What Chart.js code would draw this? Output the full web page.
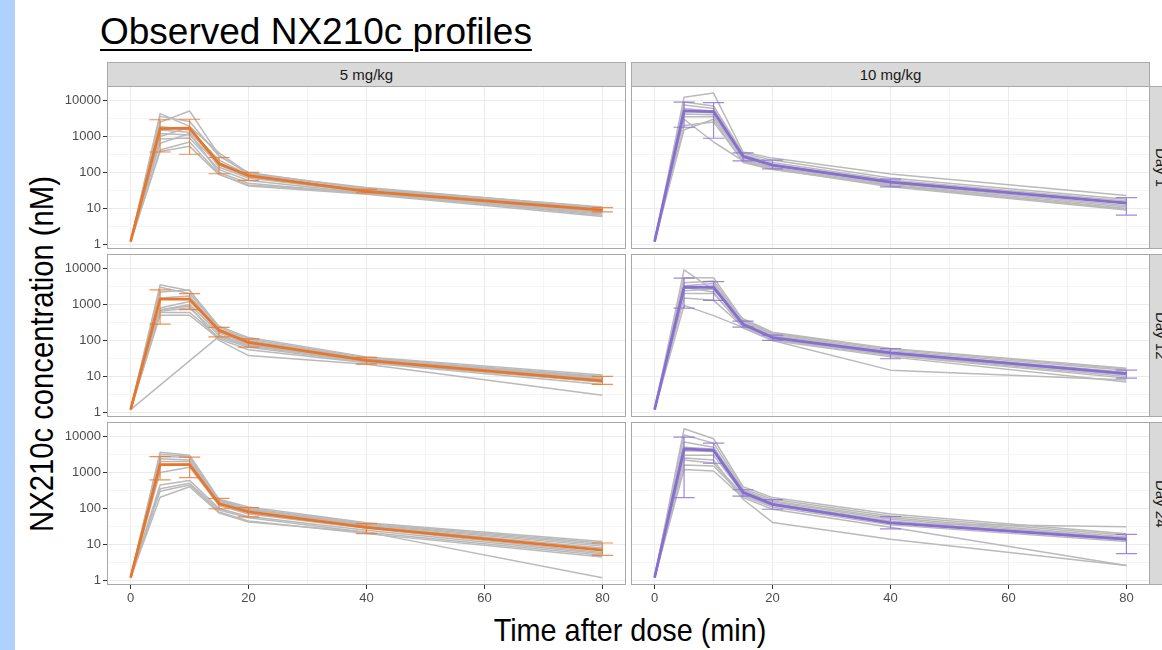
<!DOCTYPE html>
<html>
<head>
<meta charset="utf-8">
<title>Observed NX210c profiles</title>
<script src="https://cdn.jsdelivr.net/npm/chart.js@4.4.1/dist/chart.umd.min.js"></script>
<style>
  html, body { margin: 0; padding: 0; }
  body {
    width: 1162px; height: 650px; overflow: hidden; position: relative;
    background: #fff; font-family: 'Liberation Sans', Arial, sans-serif;
  }
  .side { position: absolute; left: 0; top: 0; width: 15px; height: 650px; background: #aed2fb; }
  .title {
    position: absolute; left: 100px; top: 11px; font-size: 37px; line-height: 42px;
    color: #000; text-decoration: underline; text-decoration-thickness: 2px;
    text-underline-offset: 5px; white-space: nowrap;
  }
  .strip {
    position: absolute; background: #d9d9d9; border: 1px solid #a9a9a9; box-sizing: border-box;
    color: #1a1a1a; font-size: 15px; display: flex; align-items: center; justify-content: center;
    white-space: nowrap;
  }
  .vstrip { writing-mode: vertical-rl; }
  canvas { position: absolute; }
  .ytitle {
    position: absolute; left: -209px; top: 334px; width: 500px; height: 40px; line-height: 40px;
    text-align: center; font-size: 34px; color: #000; transform: rotate(-90deg) scaleX(0.86);
    white-space: nowrap;
  }
  .xtitle {
    position: absolute; left: 380px; top: 612px; width: 500px; line-height: 36px;
    text-align: center; font-size: 32px; color: #000; transform: scaleX(0.9); white-space: nowrap;
  }
</style>
</head>
<body>
<div class="side"></div>
<div class="title">Observed NX210c profiles</div>
<div class="ytitle">NX210c concentration (nM)</div>
<div class="xtitle">Time after dose (min)</div>

<script>
// sampling times (min) and axis ticks
const times = [0, 5, 10, 15, 20, 40, 80];
const xTicks = [0, 20, 40, 60, 80];
const xMinor = [10, 30, 50, 70];
const yTicks = [1, 10, 100, 1000, 10000];
const yMinor = [3.162, 31.62, 316.2, 3162];
const doses = ['5 mg/kg', '10 mg/kg'];
const days = ['Day 1', 'Day 12', 'Day 24'];

// 5 mg/kg - mean and error bar limits
const mean5Day1 = [1.2, 1650, 1700, 175, 82, 30, 9];
const up5Day1 = [null, 2900, 3000, 260, 100, 34, 10.5];
const lo5Day1 = [null, 370, 320, 92, 60, 27, 8];
const mean5Day12 = [1.2, 1400, 1400, 190, 88, 28, 7.5];
const up5Day12 = [null, 2550, 2000, 230, 110, 34, 10];
const lo5Day12 = [null, 285, 720, 125, 65, 22, 6];
const mean5Day24 = [1.2, 1650, 1650, 135, 80, 30, 7];
const up5Day24 = [null, 2750, 2650, 190, 105, 38, 11];
const lo5Day24 = [null, 620, 720, 98, 58, 20, 5];

// 10 mg/kg - mean and error bar limits
const mean10Day1 = [1.2, 5100, 4900, 280, 160, 54, 14];
const up10Day1 = [null, 8900, 8700, 350, 220, 65, 20];
const lo10Day1 = [null, 1800, 890, 210, 125, 40, 6.5];
const mean10Day12 = [1.2, 3000, 3000, 280, 120, 45, 12];
const up10Day12 = [null, 5400, 4300, 345, 140, 59, 15];
const lo10Day12 = [null, 790, 1300, 235, 100, 31, 9];
const mean10Day24 = [1.2, 4500, 4100, 280, 130, 40, 14];
const up10Day24 = [null, 9500, 6500, 330, 175, 59, 19];
const lo10Day24 = [null, 200, 1800, 220, 95, 27, 5.6];

// individual profiles (grey lines)
const subj5Day1 = [
  [1.2, 4300, 1900, 350, 95, 36, 11],
  [1.2, 3600, 2600, 280, 100, 34, 10],
  [1.2, 2500, 5100, 300, 90, 38, 10.5],
  [1.2, 1900, 1500, 220, 85, 32, 9.5],
  [1.2, 1500, 1300, 190, 80, 30, 9],
  [1.2, 1200, 1100, 160, 75, 29, 8.5],
  [1.2, 1000, 1800, 140, 70, 28, 8],
  [1.2, 850, 900, 120, 60, 27, 7.5],
  [1.2, 650, 1200, 100, 50, 26, 7],
  [1.2, 420, 700, 90, 42, 25, 6],
  [1.2, 380, 530, 87, 45, 27, 6.5]
];
const subj5Day12 = [
  [1.2, 3500, 2400, 250, 120, 35, 11],
  [1.2, 3000, 2000, 230, 110, 33, 10],
  [1.2, 2200, 2500, 210, 100, 31, 9.5],
  [1.2, 1500, 1700, 200, 95, 30, 9],
  [1.2, 800, 1200, 180, 90, 29, 8.5],
  [1.2, 700, 1000, 160, 80, 28, 8],
  [1.2, 650, 800, 140, 75, 27, 7.5],
  [1.2, 600, 600, 120, 65, 25, 7],
  [1.2, 500, 500, 110, 55, 24, 6],
  [1.2, 700, 900, 100, 38, 22, 3],
  [1.2, null, null, 130, 70, 26, 7]
];
const subj5Day24 = [
  [1.2, 3650, 3000, 180, 110, 40, 12],
  [1.2, 3200, 2800, 170, 100, 38, 11],
  [1.2, 2800, 2600, 160, 95, 36, 10],
  [1.2, 2400, 2200, 150, 90, 34, 9],
  [1.2, 2000, 2000, 140, 85, 32, 8],
  [1.2, 1600, 1700, 130, 80, 30, 7],
  [1.2, 1000, 1400, 120, 70, 28, 6],
  [1.2, 450, 600, 100, 60, 25, 5.5],
  [1.2, 350, 500, 90, 55, 22, 5],
  [1.2, 300, 450, 80, 45, 20, 4.5],
  [1.2, 205, 400, 75, 42, 22, 1.2]
];
const subj10Day1 = [
  [1.2, 12300, 16000, 370, 250, 90, 23],
  [1.2, 9000, 7000, 340, 220, 70, 18],
  [1.2, 7500, 6000, 310, 190, 62, 16],
  [1.2, 6000, 5000, 290, 170, 58, 15],
  [1.2, 5000, 4500, 270, 160, 55, 14],
  [1.2, 4200, 4000, 250, 150, 50, 12],
  [1.2, 3500, 3500, 230, 140, 46, 11],
  [1.2, 3000, 700, 210, 130, 42, 10],
  [1.2, 2000, 2500, 200, 125, 40, 9],
  [1.2, 1540, 3000, 190, 120, 44, 9.5]
];
const subj10Day12 = [
  [1.2, 9100, 2500, 400, 170, 60, 17],
  [1.2, 5500, 5500, 370, 160, 57, 16],
  [1.2, 4000, 4500, 340, 150, 52, 15],
  [1.2, 3300, 3800, 310, 140, 48, 13],
  [1.2, 2800, 3200, 290, 130, 45, 12],
  [1.2, 2400, 2700, 270, 120, 42, 11],
  [1.2, 2000, 2000, 250, 110, 40, 10],
  [1.2, 1500, 1300, 240, 105, 38, 9],
  [1.2, 940, 490, 230, 100, 35, 7],
  [1.2, 3000, 2200, 220, 100, 15, 8]
];
const subj10Day24 = [
  [1.2, 16300, 8600, 400, 200, 70, 20],
  [1.2, 11000, 6500, 350, 180, 62, 18],
  [1.2, 7000, 5000, 320, 160, 55, 16],
  [1.2, 5000, 4500, 300, 150, 50, 15],
  [1.2, 4000, 3800, 280, 140, 45, 14],
  [1.2, 3000, 3000, 260, 130, 40, 13],
  [1.2, 2200, 1800, 240, 120, 38, 31],
  [1.2, 1600, 1500, 220, 110, 35, 12],
  [1.2, 1200, 1100, 200, 95, 30, 2.6],
  [1.2, 2500, 2200, 180, 41, 14, 2.6]
];

const doseColors = ['#e8762b', '#876dd6'];
const errColors = ['rgba(232,118,43,0.8)', 'rgba(135,109,214,0.8)'];
const greyLine = '#bababa';

const panels = [
  { dose: 0, day: 0, mean: mean5Day1, up: up5Day1, lo: lo5Day1, subj: subj5Day1 },
  { dose: 1, day: 0, mean: mean10Day1, up: up10Day1, lo: lo10Day1, subj: subj10Day1 },
  { dose: 0, day: 1, mean: mean5Day12, up: up5Day12, lo: lo5Day12, subj: subj5Day12 },
  { dose: 1, day: 1, mean: mean10Day12, up: up10Day12, lo: lo10Day12, subj: subj10Day12 },
  { dose: 0, day: 2, mean: mean5Day24, up: up5Day24, lo: lo5Day24, subj: subj5Day24 },
  { dose: 1, day: 2, mean: mean10Day24, up: up10Day24, lo: lo10Day24, subj: subj10Day24 }
];

// page layout
const colLeft = [107, 631];
const rowTop = [86, 254, 422];
const panelW = 519;
const panelH = 163;
const yAxisW = 60;
const padTop = 8;
const padBottom = 8;
const xAxisH = 26;
const capHalf = 1.8;
const fontFamily = "'Liberation Sans', Arial, sans-serif";

// strips
doses.forEach((d, i) => {
  const el = document.createElement('div');
  el.className = 'strip';
  el.style.left = colLeft[i] + 'px';
  el.style.top = '62px';
  el.style.width = panelW + 'px';
  el.style.height = '25px';
  el.textContent = d;
  document.body.appendChild(el);
});
days.forEach((d, i) => {
  const el = document.createElement('div');
  el.className = 'strip vstrip';
  el.style.left = (colLeft[1] + panelW - 1) + 'px';
  el.style.top = rowTop[i] + 'px';
  el.style.width = '25px';
  el.style.height = panelH + 'px';
  el.textContent = d;
  document.body.appendChild(el);
});

function errorBarPoints(up, lo) {
  const pts = [];
  times.forEach((t, i) => {
    if (up[i] == null) return;
    pts.push({ x: t - capHalf, y: up[i] }, { x: t + capHalf, y: up[i] }, { x: t, y: null });
    pts.push({ x: t, y: up[i] }, { x: t, y: lo[i] }, { x: t, y: null });
    pts.push({ x: t - capHalf, y: lo[i] }, { x: t + capHalf, y: lo[i] }, { x: t, y: null });
  });
  return pts;
}

const panelBorder = {
  id: 'panelBorder',
  afterDraw(chart) {
    const a = chart.chartArea;
    const ctx = chart.ctx;
    ctx.save();
    ctx.strokeStyle = '#a8a8a8';
    ctx.lineWidth = 1;
    ctx.strokeRect(a.left + 0.5, a.top + 0.5, a.right - a.left - 1, a.bottom - a.top - 1);
    ctx.restore();
  }
};

function noPadding(scale) {
  scale.paddingLeft = 0;
  scale.paddingRight = 0;
  scale.paddingTop = 0;
  scale.paddingBottom = 0;
}

panels.forEach(p => {
  const isLeft = p.dose === 0;
  const isBottom = p.day === 2;
  const color = doseColors[p.dose];

  const cv = document.createElement('canvas');
  const w = (isLeft ? yAxisW : 0) + panelW;
  const h = padTop + panelH + (isBottom ? xAxisH : padBottom);
  cv.width = w;
  cv.height = h;
  cv.style.left = (colLeft[p.dose] - (isLeft ? yAxisW : 0)) + 'px';
  cv.style.top = (rowTop[p.day] - padTop) + 'px';
  document.body.appendChild(cv);

  const datasets = [];
  datasets.push({
    data: times.map((t, i) => ({ x: t, y: p.mean[i] })),
    borderColor: color, borderWidth: 2.8, spanGaps: true
  });
  datasets.push({
    data: errorBarPoints(p.up, p.lo),
    borderColor: errColors[p.dose], borderWidth: 1.2, spanGaps: false
  });
  p.subj.forEach(s => {
    datasets.push({
      data: times.map((t, i) => ({ x: t, y: s[i] })),
      borderColor: greyLine, borderWidth: 1.5, spanGaps: true
    });
  });

  new Chart(cv, {
    type: 'line',
    data: { datasets: datasets },
    plugins: [panelBorder],
    options: {
      responsive: false,
      animation: false,
      events: [],
      layout: { padding: { top: padTop, bottom: isBottom ? 0 : padBottom, left: 0, right: 0 } },
      elements: {
        point: { radius: 0 },
        line: { tension: 0, fill: false, borderJoinStyle: 'round' }
      },
      plugins: { legend: { display: false }, tooltip: { enabled: false } },
      scales: {
        x: {
          type: 'linear', min: -4, max: 84,
          afterBuildTicks: s => {
            s.ticks = xTicks.concat(xMinor).sort((a, b) => a - b).map(v => ({ value: v }));
          },
          afterFit: s => { s.height = isBottom ? xAxisH : 0; noPadding(s); },
          border: { display: false },
          grid: {
            color: c => xTicks.includes(c.tick.value) ? '#ebebeb' : '#f5f5f5',
            drawTicks: isBottom, tickLength: 4,
            tickColor: c => xTicks.includes(c.tick.value) ? '#333333' : 'rgba(0,0,0,0)'
          },
          ticks: {
            display: isBottom, autoSkip: false, maxRotation: 0, padding: 2,
            color: '#4d4d4d', font: { family: fontFamily, size: 13 },
            callback: v => xTicks.includes(v) ? String(v) : ''
          }
        },
        y: {
          type: 'logarithmic', min: 0.75, max: 25100,
          afterBuildTicks: s => {
            s.ticks = yTicks.concat(yMinor).sort((a, b) => a - b).map(v => ({ value: v }));
          },
          afterFit: s => { s.width = isLeft ? yAxisW : 0; noPadding(s); },
          border: { display: false },
          grid: {
            color: c => yTicks.includes(c.tick.value) ? '#ebebeb' : '#f5f5f5',
            drawTicks: isLeft, tickLength: 4,
            tickColor: c => yTicks.includes(c.tick.value) ? '#333333' : 'rgba(0,0,0,0)'
          },
          ticks: {
            display: isLeft, autoSkip: false, padding: 2,
            color: '#4d4d4d', font: { family: fontFamily, size: 13 },
            callback: v => yTicks.includes(v) ? String(v) : ''
          }
        }
      }
    }
  });
});
</script>
</body>
</html>
